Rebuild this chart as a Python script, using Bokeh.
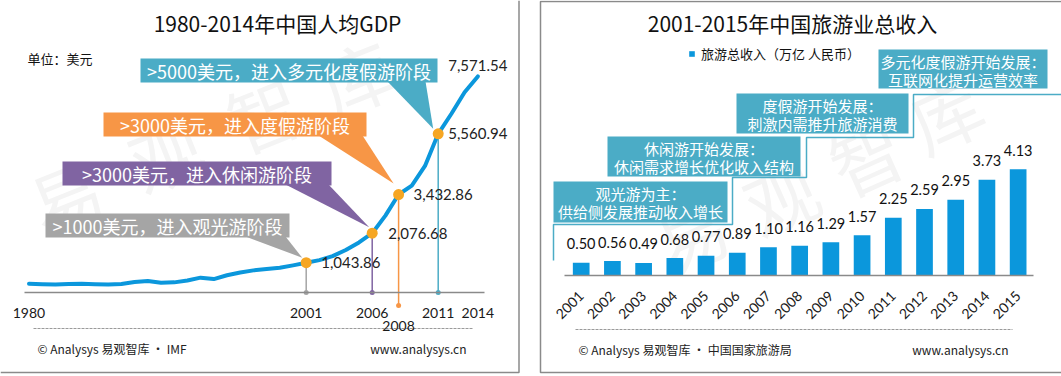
import math
from bokeh.plotting import figure
from bokeh.layouts import row
from bokeh.models import Range1d, LinearAxis, FixedTicker, Legend, LegendItem
from bokeh.core.properties import value
from bokeh.embed import file_html
from bokeh.resources import INLINE

# ---------------- data ----------------
gdp_years = list(range(1980, 2015))
gdp_usd = [305, 290, 281, 298, 308, 292, 280, 300, 365, 405,
           345, 355, 420, 520, 470, 605, 703, 775, 820, 865,
           950, 1043.86, 1135, 1274, 1490, 1753, 2076.68, 2695, 3432.86, 3748,
           4434, 5560.94, 6264, 7017, 7571.54]
key_years = [2001, 2006, 2008, 2011]
key_usd = [1043.86, 2076.68, 3432.86, 5560.94]
key_labels = ["1,043.86", "2,076.68", "3,432.86", "5,560.94"]
end_years = [2014]
end_usd = [7571.54]
end_labels = ["7,571.54"]
gdp_axis_years = [1980, 2001, 2006, 2011, 2014]
gdp_axis_years_low = [2008]
gdp_stage_texts = [">1000美元，进入观光游阶段", ">3000美元，进入休闲游阶段",
                   ">3000美元，进入度假游阶段", ">5000美元，进入多元化度假游阶段"]

rev_years = list(range(2001, 2016))
rev_trillion = [0.50, 0.56, 0.49, 0.68, 0.77, 0.89, 1.10, 1.16, 1.29, 1.57,
                2.25, 2.59, 2.95, 3.73, 4.13]
rev_labels = ["0.50", "0.56", "0.49", "0.68", "0.77", "0.89", "1.10", "1.16", "1.29", "1.57",
              "2.25", "2.59", "2.95", "3.73", "4.13"]
rev_series_name = "旅游总收入（万亿 人民币）"
rev_stage_head = ["观光游为主：", "休闲游开始发展：", "度假游开始发展：", "多元化度假游开始发展："]
rev_stage_body = ["供给侧发展推动收入增长", "休闲需求增长优化收入结构", "刺激内需推升旅游消费", "互联网化提升运营效率"]

# ---------------- styles ----------------
CJK = value("Noto Sans CJK SC")
NUM = value("Lato")
BLUE = "#0b97dc"
DOT = "#f6a623"
C_GRAY, C_PURPLE, C_ORANGE, C_TEAL = "#a5a5a5", "#8064a2", "#f79646", "#4bacc6"
FRAME = "#8a8a8a"
WM = "#f4f4f4"

# ---------------- left panel ----------------
LW, H = 530, 376
X0L, SXL = 28.5, 13.2      # pixel of 1980, px per year
Y0L, SYL = 292.0, 0.02854  # pixel of 0 USD, px per USD


def XL(px):
    return 1980 + (px - X0L) / SXL


def YL(py):
    return (Y0L - py) / SYL


pl = figure(width=LW, height=H, output_backend="svg", toolbar_location=None,
            x_range=Range1d(XL(0), XL(LW)), y_range=Range1d(YL(H), YL(0)),
            x_axis_location=None, y_axis_location=None, min_border=0,
            min_border_left=0, min_border_right=0, min_border_top=0, min_border_bottom=0)
pl.outline_line_color = None
pl.grid.visible = False

# watermark
wm_l = [(65, 195), (165, 152), (262, 112), (355, 75)]
pl.text(x=[XL(a) for a, b in wm_l], y=[YL(b) for a, b in wm_l], text=list("易观智库"),
        text_font=CJK, text_font_size="72px", text_color=WM,
        angle=0.38, text_align="center", text_baseline="middle")

# frame lines
pl.line([XL(518.5), XL(518.5), XL(0)], [YL(0), YL(372), YL(372)], line_color=FRAME, line_width=1.5)

# title & unit
pl.text(x=[XL(277)], y=[YL(22)], text=["1980-2014年中国人均GDP"], text_font=CJK,
        text_font_size="21px", text_color="#111111", text_align="center", text_baseline="middle")
pl.text(x=[XL(27)], y=[YL(58)], text=["单位：美元"], text_font=CJK,
        text_font_size="13px", text_color="#111111", text_align="left", text_baseline="middle")

# callout boxes (gray, purple, orange, teal)
box_l = [(45, 289, 213, 237), (62, 331, 161, 185), (103, 366, 112, 136), (140, 437, 58, 82)]
box_c = [C_GRAY, C_PURPLE, C_ORANGE, C_TEAL]
wedge_base = [(245, 285), (285, 328), (318, 362), (387, 425)]
tip_off = [(-4, -5), (-3, -6), (-5, -11), (-5, -5)]
xs, ys = [], []
for (bl, br), (l, r, t, b), (dx, dy), i in zip(wedge_base, box_l, tip_off, range(4)):
    tx = key_years[i] + dx / SXL
    ty = key_usd[i] - dy / SYL
    xs.append([XL(bl), XL(br), tx])
    ys.append([YL(b - 1), YL(b - 1), ty])
pl.patches(xs, ys, fill_color=box_c, line_color=None)
pl.quad(left=[XL(l) for l, r, t, b in box_l], right=[XL(r) for l, r, t, b in box_l],
        top=[YL(t) for l, r, t, b in box_l], bottom=[YL(b) for l, r, t, b in box_l],
        fill_color=box_c, line_color=None)
pl.text(x=[XL((l + r) / 2) for l, r, t, b in box_l], y=[YL((t + b) / 2) for l, r, t, b in box_l],
        text=gdp_stage_texts, text_font=CJK, text_font_size="18px", text_color="white",
        text_align="center", text_baseline="middle")

# drop lines
drop_bottom = [0, 0, YL(305), 0]
pl.segment(x0=key_years, y0=key_usd, x1=key_years, y1=drop_bottom,
           line_color=box_c, line_width=1.5)
pl.scatter(x=key_years, y=drop_bottom, size=5, fill_color=box_c, line_color=None)

# axis
ax = LinearAxis(fixed_location=0, ticker=FixedTicker(ticks=gdp_axis_years), bounds=(XL(24), XL(484)))
ax.axis_line_color = FRAME
ax.axis_line_width = 1.5
ax.major_tick_line_color = None
ax.minor_tick_line_color = None
ax.major_label_text_font = "Lato"
ax.major_label_text_font_size = "14px"
ax.major_label_text_color = "#1a1a1a"
ax.major_label_standoff = 9
pl.add_layout(ax, "below")
ax2 = LinearAxis(fixed_location=YL(305), ticker=FixedTicker(ticks=gdp_axis_years_low))
ax2.axis_line_color = None
ax2.major_tick_line_color = None
ax2.minor_tick_line_color = None
ax2.major_label_text_font = "Lato"
ax2.major_label_text_font_size = "14px"
ax2.major_label_text_color = "#1a1a1a"
ax2.major_label_standoff = 9
pl.add_layout(ax2, "below")

# GDP line and points
pl.line(gdp_years, gdp_usd, line_color=BLUE, line_width=4, line_cap="round", line_join="round")
pl.scatter(key_years, key_usd, size=11, fill_color=DOT, line_color=None)
pl.text(x=key_years, y=key_usd, text=key_labels, x_offset=[15, 16, 15, 10],
        text_font=NUM, text_font_size="15px", text_color="#222222",
        text_align="left", text_baseline="middle")
pl.text(x=end_years, y=[v + 11 / SYL for v in end_usd], text=end_labels,
        text_font=NUM, text_font_size="15px", text_color="#222222",
        text_align="center", text_baseline="middle")

# footer
pl.line([XL(33), XL(472)], [YL(328), YL(328)], line_color="#9a9a9a", line_width=1, line_dash="3 1")
pl.text(x=[XL(37)], y=[YL(348)], text=["© Analysys 易观智库 · IMF"], text_font=CJK,
        text_font_size="12px", text_color="#222222", text_align="left", text_baseline="middle")
pl.text(x=[XL(466)], y=[YL(348)], text=["www.analysys.cn"], text_font=CJK,
        text_font_size="12px", text_color="#222222", text_align="right", text_baseline="middle")

# ---------------- right panel ----------------
RW = 531
OX = 530
X0R, SXR = 50.7, 31.21   # local pixel of 2001, px per year
Y0R, SYR = 275.0, 25.7   # pixel of 0, px per trillion


def XR(gx):
    return 2001 + (gx - OX - X0R) / SXR


def YR(py):
    return (Y0R - py) / SYR


pr = figure(width=RW, height=H, output_backend="svg", toolbar_location=None,
            x_range=Range1d(XR(OX), XR(OX + RW)), y_range=Range1d(YR(H), YR(0)),
            x_axis_location=None, y_axis_location=None, min_border=0,
            min_border_left=0, min_border_right=0, min_border_top=0, min_border_bottom=0)
pr.outline_line_color = None
pr.grid.visible = False

wm_r = [(690, 232), (780, 195), (865, 155), (945, 112)]
pr.text(x=[XR(a) for a, b in wm_r], y=[YR(b) for a, b in wm_r], text=list("易观智库"),
        text_font=CJK, text_font_size="72px", text_color=WM,
        angle=0.42, text_align="center", text_baseline="middle")

pr.line([XR(OX + RW), XR(540), XR(540), XR(OX + RW)], [YR(1), YR(1), YR(372), YR(372)],
        line_color=FRAME, line_width=1.5)

pr.text(x=[XR(792)], y=[YR(22)], text=["2001-2015年中国旅游业总收入"], text_font=CJK,
        text_font_size="21px", text_color="#111111", text_align="center", text_baseline="middle")

# staircase
stair = [(553, 260), (553, 224), (732, 224), (732, 177), (806, 177), (806, 137),
         (913, 137), (913, 94), (1061, 94)]
pr.line([XR(a) for a, b in stair], [YR(b) for a, b in stair], line_color=C_TEAL, line_width=1.5)

box_r = [(553, 727, 181, 222), (607, 800, 136, 176), (736, 908, 93, 133), (878, 1047, 49, 88)]
pr.quad(left=[XR(l) for l, r, t, b in box_r], right=[XR(r) for l, r, t, b in box_r],
        top=[YR(t) for l, r, t, b in box_r], bottom=[YR(b) for l, r, t, b in box_r],
        fill_color=C_TEAL, line_color=None)
pr.text(x=[XR((l + r) / 2) for l, r, t, b in box_r], y=[YR(t + 12) for l, r, t, b in box_r],
        text=rev_stage_head, text_font=CJK, text_font_size="15px", text_color="white",
        text_align="center", text_baseline="middle")
pr.text(x=[XR((l + r) / 2) for l, r, t, b in box_r], y=[YR(t + 30) for l, r, t, b in box_r],
        text=rev_stage_body, text_font=CJK, text_font_size="15px", text_color="white",
        text_align="center", text_baseline="middle")

bars = pr.vbar(x=rev_years, top=rev_trillion, width=16.7 / SXR, fill_color=BLUE, line_color=None)
pr.text(x=rev_years, y=[v + 19 / SYR for v in rev_trillion], text=rev_labels,
        text_font=NUM, text_font_size="14.5px", text_color="#111111",
        text_align="center", text_baseline="middle")

axr = LinearAxis(fixed_location=0, ticker=FixedTicker(ticks=rev_years), bounds=(XR(564), XR(1033)))
axr.axis_line_color = FRAME
axr.axis_line_width = 1.5
axr.major_tick_line_color = None
axr.minor_tick_line_color = None
axr.major_label_orientation = math.pi / 4
axr.major_label_text_font = "Lato"
axr.major_label_text_font_size = "14px"
axr.major_label_text_color = "#1a1a1a"
axr.major_label_standoff = 12
pr.add_layout(axr, "below")

legend = Legend(items=[LegendItem(label=rev_series_name, renderers=[bars])],
                location=(158, 376 - 44 - 19), border_line_color=None, background_fill_alpha=0,
                padding=0, margin=0, glyph_width=7, glyph_height=7, label_standoff=6,
                label_height=14, label_text_font="Noto Sans CJK SC", label_text_font_size="13px",
                label_text_color="#111111")
pr.add_layout(legend)

pr.line([XR(575), XR(1012)], [YR(329), YR(329)], line_color="#9a9a9a", line_width=1, line_dash="3 1")
pr.text(x=[XR(578)], y=[YR(349)], text=["© Analysys 易观智库 · 中国国家旅游局"], text_font=CJK,
        text_font_size="12px", text_color="#222222", text_align="left", text_baseline="middle")
pr.text(x=[XR(1008)], y=[YR(349)], text=["www.analysys.cn"], text_font=CJK,
        text_font_size="12px", text_color="#222222", text_align="right", text_baseline="middle")

layout = row(pl, pr)
open("out.html", "w").write(file_html(layout, INLINE))
